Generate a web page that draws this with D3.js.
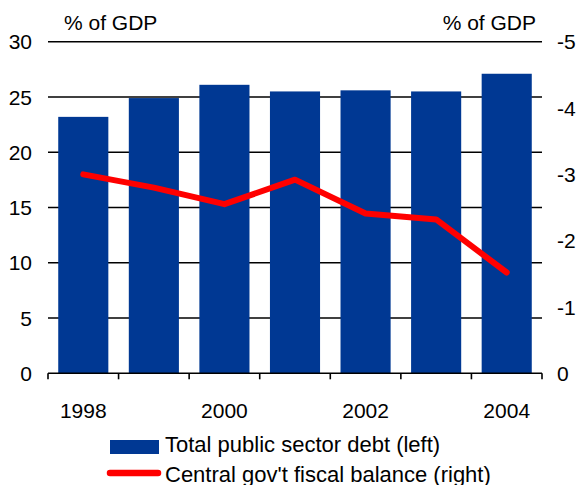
<!DOCTYPE html>
<html><head><meta charset="utf-8">
<script src="https://cdn.jsdelivr.net/npm/d3@7"></script>
<style>
html,body{margin:0;padding:0;background:#fff;}
svg{display:block;font-family:"Liberation Sans",Arial,sans-serif;}
</style></head>
<body>
<svg id="chart" width="581" height="485"></svg>
<script>
const years = [1998, 1999, 2000, 2001, 2002, 2003, 2004];
const debt = [23.2, 24.9, 26.1, 25.5, 25.6, 25.5, 27.1];
const balance = [-3.0, -2.8, -2.55, -2.92, -2.41, -2.32, -1.52];
const leftTicks = [0, 5, 10, 15, 20, 25, 30];
const rightTicks = [0, -1, -2, -3, -4, -5];
const xLabels = [1998, 2000, 2002, 2004];
const legendLabels = ["Total public sector debt (left)", "Central gov't fiscal balance (right)"];
const unitLabel = "% of GDP";

const svg = d3.select("#chart");
const L = 48, R = 542, T = 41.7, B = 373.3;
const fs = 21;
const blue = "#003893", red = "#ff0000";

const x = d3.scaleBand().domain(years).range([L, R]).paddingInner(0.29).paddingOuter(0.145);
const yL = d3.scaleLinear().domain([0, 30]).range([B, T]);
const yR = d3.scaleLinear().domain([0, -5]).range([B, T]);

// gridlines
svg.append("g").selectAll("line").data(leftTicks.filter(d => d > 0)).join("line")
  .attr("x1", L).attr("x2", R).attr("y1", d => yL(d)).attr("y2", d => yL(d))
  .attr("stroke", "#000").attr("stroke-width", 1.6);

// bars
svg.append("g").selectAll("rect").data(years).join("rect")
  .attr("x", d => x(d)).attr("width", x.bandwidth())
  .attr("y", (d, i) => yL(debt[i])).attr("height", (d, i) => B - yL(debt[i]))
  .attr("fill", blue);

// x axis
const xa = svg.append("g");
xa.append("line").attr("x1", L).attr("x2", R).attr("y1", B).attr("y2", B)
  .attr("stroke", "#000").attr("stroke-width", 1.6);
const bounds = years.map(d => x(d) - x.step() * x.paddingInner() / 2).concat([R]);
bounds[0] = L;
xa.selectAll("line.tk").data(bounds).join("line").attr("class", "tk")
  .attr("x1", d => d).attr("x2", d => d).attr("y1", B).attr("y2", B + 6)
  .attr("stroke", "#000").attr("stroke-width", 1.6);
xa.selectAll("text").data(xLabels).join("text")
  .attr("x", d => x(d) + x.bandwidth() / 2).attr("y", 418)
  .attr("text-anchor", "middle").attr("font-size", fs).attr("fill", "#000").text(d => d);

// left labels
svg.append("g").selectAll("text").data(leftTicks).join("text")
  .attr("x", 32).attr("y", d => yL(d)).attr("dy", "0.36em")
  .attr("text-anchor", "end").attr("font-size", fs).text(d => d);
// right labels
svg.append("g").selectAll("text").data(rightTicks).join("text")
  .attr("x", 557).attr("y", d => yR(d)).attr("dy", "0.36em")
  .attr("text-anchor", "start").attr("font-size", fs).text(d => d);

svg.append("text").attr("x", 64).attr("y", 30).attr("font-size", fs).text(unitLabel);
svg.append("text").attr("x", 536).attr("y", 30).attr("text-anchor", "end").attr("font-size", fs).text(unitLabel);

// line
const line = d3.line().x((d, i) => x(years[i]) + x.bandwidth() / 2).y(d => yR(d));
svg.append("path").datum(balance).attr("d", line)
  .attr("fill", "none").attr("stroke", red).attr("stroke-width", 6)
  .attr("stroke-linejoin", "round").attr("stroke-linecap", "round");

// legend
const lg = svg.append("g");
lg.append("rect").attr("x", 110).attr("y", 440).attr("width", 49).attr("height", 14).attr("fill", blue);
lg.append("line").attr("x1", 110).attr("x2", 158).attr("y1", 473).attr("y2", 473)
  .attr("stroke", red).attr("stroke-width", 6.5).attr("stroke-linecap", "round");
lg.selectAll("text").data(legendLabels).join("text")
  .attr("x", 165).attr("y", (d, i) => 452 + i * 30).attr("font-size", 22).text(d => d);
</script>
</body></html>
